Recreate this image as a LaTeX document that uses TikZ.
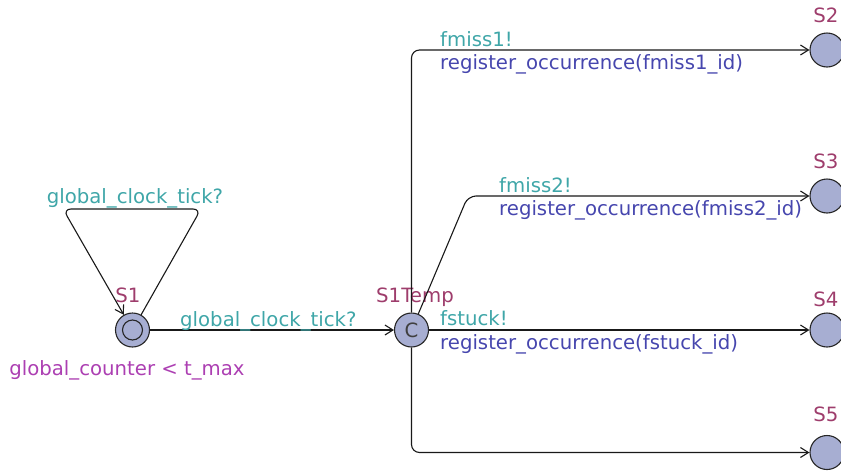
\documentclass[tikz,border=0pt]{standalone}
\usepackage{fontspec}
\setmainfont{DejaVu Sans}
\usetikzlibrary{arrows.meta}
\definecolor{NameCol}{HTML}{9E3D6C}
\definecolor{SyncCol}{HTML}{3FA6A8}
\definecolor{UpdCol}{HTML}{4646AE}
\definecolor{InvCol}{HTML}{AC3FB2}
\definecolor{LocFill}{HTML}{A7AED2}
\newcommand{\lblfont}{\fontsize{19.7}{23}\selectfont}

\begin{document}
\begin{tikzpicture}[x=1pt,y=-1pt,>={Straight Barb[length=8pt,width=10pt]},
  loc/.style={circle,draw=black!85,fill=LocFill,line width=1.1pt,minimum size=34pt,inner sep=0pt},
  initloc/.style={loc,path picture={\draw[black!85,line width=1.1pt] (path picture bounding box.center) circle (10pt);}},
  trans/.style={draw=black!90,line width=1.1pt,->,rounded corners=8pt},
  locname/.style={text=NameCol,font=\lblfont,anchor=base,inner sep=0pt},
  sync/.style={text=SyncCol,font=\lblfont,anchor=base west,inner sep=0pt},
  upd/.style={text=UpdCol,font=\lblfont,anchor=base west,inner sep=0pt},
  inv/.style={text=InvCol,font=\lblfont,anchor=base,inner sep=0pt}]
\useasboundingbox (0,0) rectangle (841,472);
% locations
\node[initloc] (S1) at (132.5,330) {};
\node[loc,font=\lblfont,text=black!75] (S1Temp) at (411.5,330) {C};
\node[loc] (S2) at (827,50) {};
\node[loc] (S3) at (827,196) {};
\node[loc] (S4) at (827,330) {};
\node[loc] (S5) at (827,452.5) {};
% names and invariant
\node[locname] (nS1) at (128,302) {S1};
\node[locname] (nS1Temp) at (415,302) {S1Temp};
\node[locname] (nS2) at (826,22) {S2};
\node[locname] (nS3) at (826,168) {S3};
\node[locname] (nS4) at (826,306) {S4};
\node[locname] (nS5) at (826,421) {S5};
\node[inv] (invS1) at (127,375) {global\_counter < t\_max};
% bend points
\coordinate (loopR) at (201,209);
\coordinate (loopL) at (63,209);
\coordinate (bendS3) at (468,196);
% edges
\draw[trans] (S1) -- (loopR) -- (loopL) -- (S1);
\draw[trans] (S1) -- (S1Temp);
\draw[trans] (S1Temp) |- (S2);
\draw[trans] (S1Temp) -- (bendS3) -- (S3);
\draw[trans] (S1Temp) -- (S4);
\draw[trans] (S1Temp) |- (S5);
% edge labels
\node[sync,anchor=base] (syLoop) at (135,203) {global\_clock\_tick?};
\node[sync] (syTemp) at (180,326) {global\_clock\_tick?};
\node[sync] (syS2) at (440,46) {fmiss1!};
\node[upd] (upS2) at (440,69) {register\_occurrence(fmiss1\_id)};
\node[sync] (syS3) at (499,192) {fmiss2!};
\node[upd] (upS3) at (499,215) {register\_occurrence(fmiss2\_id)};
\node[sync] (syS4) at (440,325) {fstuck!};
\node[upd] (upS4) at (440,349) {register\_occurrence(fstuck\_id)};
\end{tikzpicture}
\end{document}
